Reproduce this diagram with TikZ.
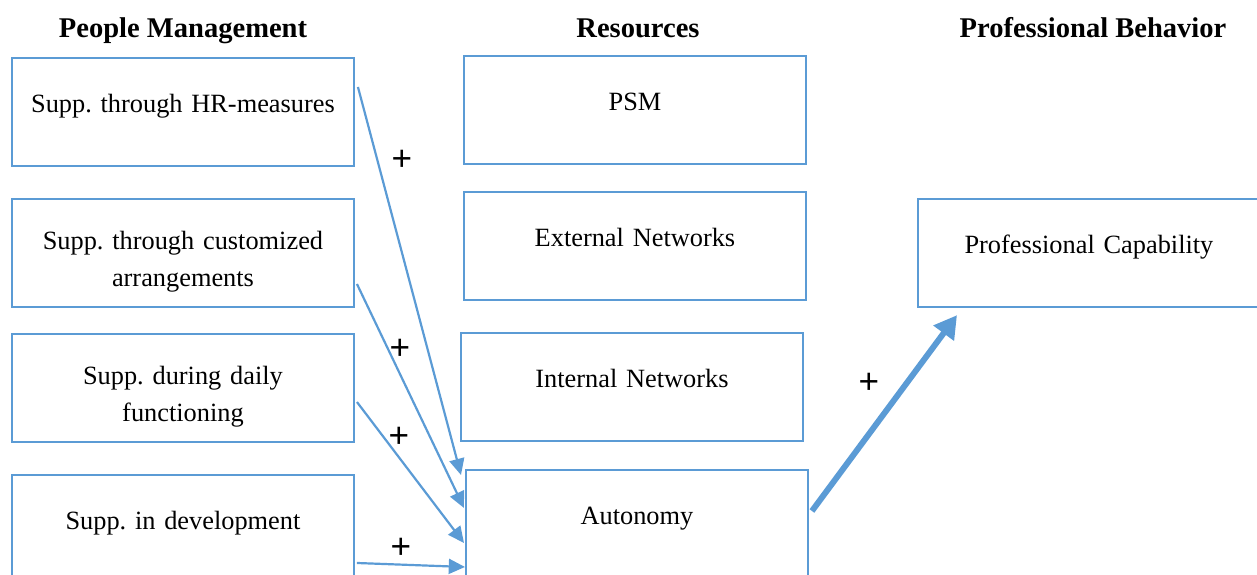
\documentclass[tikz,border=0pt]{standalone}
\usepackage{fontspec}
\setmainfont{Liberation Serif}
\newfontfamily\plusfont{Liberation Sans}
\usetikzlibrary{arrows.meta}
\definecolor{officeblue}{RGB}{91,155,213}
\frenchspacing

\begin{document}
\begin{tikzpicture}[
        x=0.016cm,y=-0.016cm,
        head/.style={font=\fontsize{13}{15}\selectfont\bfseries,anchor=base},
        box/.style={draw=officeblue,line width=1pt,anchor=north west,inner xsep=0pt,inner ysep=0pt,text width=5.47cm,align=center,font=\fontsize{12}{17.2}\selectfont,text height=0.864cm,text depth=0.864cm},
        twoline/.style={text height=0.8cm,text depth=0.928cm},
        plus/.style={font=\plusfont\fontsize{16}{18}\selectfont,inner sep=0pt},
        link/.style={draw=officeblue,line width=1pt,-{Triangle[length=0.26cm,width=0.24cm]}},
        strong/.style={draw=officeblue,line width=2.7pt,-{Triangle[length=0.36cm,width=0.39cm]}}
    ]
    \useasboundingbox (0,0) rectangle (1257,575);
    % column heads
    \node[head] (pm) at (183,38) {People Management};
    \node[head] (res) at (638,38) {Resources};
    \node[head] (pb) at (1093,38) {Professional Behavior};
    % people management
    \node[box] (hr) at (11,57) {Supp. through HR-measures};
    \node[box,twoline] (cust) at (11,198) {Supp. through customized\\arrangements};
    \node[box,twoline] (daily) at (11,333) {Supp. during daily\\functioning};
    \node[box] (dev) at (11,474) {Supp. in development};
    % resources
    \node[box] (psm) at (463,55) {PSM};
    \node[box] (ext) at (463,191) {External Networks};
    \node[box] (int) at (460,332) {Internal Networks};
    \node[box] (aut) at (465,469) {Autonomy};
    % professional behavior
    \node[box] (cap) at (917,198) {Professional Capability};
    % effects
    \draw[link] ([shift={(3,30)}]hr.north east) -- ([shift={(-4,6)}]aut.north west);
    \draw[link] ([shift={(2,86)}]cust.north east) -- ([shift={(-1,39)}]aut.north west);
    \draw[link] ([shift={(2,69)}]daily.north east) -- ([shift={(-1,74)}]aut.north west);
    \draw[link] ([shift={(2,89)}]dev.north east) -- ([shift={(0,98)}]aut.north west);
    \draw[strong] ([shift={(3,42)}]aut.north east) -- ([shift={(40,7)}]cap.south west);
    \node[plus] (p1) at (402,160) {+};
    \node[plus] (p2) at (400,349) {+};
    \node[plus] (p3) at (399,437) {+};
    \node[plus] (p4) at (401,548) {+};
    \node[plus] (p5) at (869,383) {+};
\end{tikzpicture}
\end{document}
